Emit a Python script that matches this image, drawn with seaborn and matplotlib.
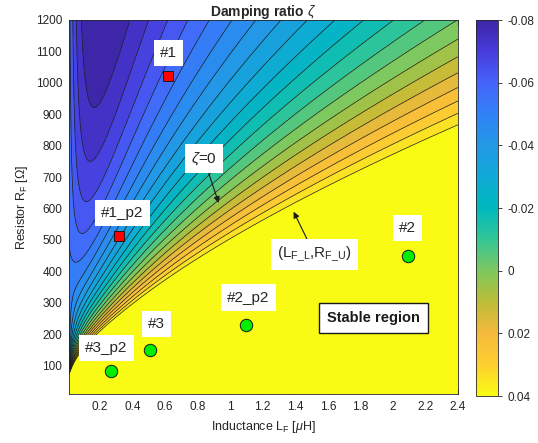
import numpy as np
import matplotlib
matplotlib.use("Agg")
import matplotlib.pyplot as plt
import seaborn as sns
from matplotlib.colors import LinearSegmentedColormap, Normalize
from matplotlib.cm import ScalarMappable

# axis ranges and ticks
l_range = (0.01, 2.4)      # uH
r_range = (10, 1200)       # ohm
x_ticks = [0.2, 0.4, 0.6, 0.8, 1.0, 1.2, 1.4, 1.6, 1.8, 2.0, 2.2, 2.4]
y_ticks = [100, 200, 300, 400, 500, 600, 700, 800, 900, 1000, 1100, 1200]
cbar_ticks = [-0.08, -0.06, -0.04, -0.02, 0, 0.02, 0.04]
zeta_lim = (-0.08, 0.04)
n_lines = 21

# contour crossings (line index 1..21)
top_cross_l = [0.39, 0.52, 0.60, 0.73, 0.88, 1.03, 1.16, 1.31, 1.48, 1.65,
               1.82, 2.00, 2.20, 2.38]                       # at R = 1200, lines 1..14
right_cross_r = [1193, 1122, 1084, 1039, 998, 956, 899, 858]  # at L = 2.4, lines 14..21

# shape of the map: lines fan out from (0, fan_r0) as L^fan_exp,
# plus a rise towards L -> 0 that makes the U shaped valley
fan_exp = 0.67
fan_r0 = 50.0
valley_amp = 9.9
valley_len = 0.09
valley_rfade = 120.0

# design cases
case_names = ["#1", "#1_p2", "#2", "#2_p2", "#3", "#3_p2"]
case_l = [0.62, 0.32, 2.09, 1.10, 0.51, 0.27]
case_r = [1022, 513, 449, 231, 149, 83]
case_marker = ["s", "s", "o", "o", "o", "o"]
case_color = ["#ff0000", "#ff0000", "#00ee00", "#00ee00", "#00ee00", "#00ee00"]
label_offset = [(0, 23), (3, 23), (0, 28), (2, 27), (6, 26), (-5, 23)]  # pixels

# parula-like colormap
parula = LinearSegmentedColormap.from_list("parula", [
    (0.000, "#3e26a8"), (0.083, "#473cdc"), (0.167, "#4664fa"),
    (0.250, "#3082f5"), (0.333, "#2398e6"), (0.417, "#10aad6"),
    (0.500, "#00b9be"), (0.583, "#32c696"), (0.667, "#7dc85f"),
    (0.750, "#bcbd37"), (0.833, "#f5b93c"), (0.917, "#fecf30"),
    (1.000, "#f9fb14")])

sns.set_theme(style="ticks")
plt.rcParams["font.family"] = ["Liberation Sans", "DejaVu Sans"]
plt.rcParams["mathtext.fontset"] = "custom"
plt.rcParams["mathtext.rm"] = "Liberation Sans"
plt.rcParams["mathtext.it"] = "Liberation Sans:italic"
plt.rcParams["mathtext.bf"] = "Liberation Sans:bold"


def fan_coord(l, r):
    dr = np.asarray(r, float) - fan_r0
    return np.where(dr > 0, 1000 * np.asarray(l, float) ** fan_exp / np.maximum(dr, 1e-9), 1e3)


# line index against the fan coordinate, fitted on the edge crossings
v_edge = np.r_[fan_coord(np.array(top_cross_l), 1200), fan_coord(2.4, np.array(right_cross_r))]
k_edge = np.r_[np.arange(1, 15), np.arange(14, 22)]
fan_poly = np.polyfit(v_edge, k_edge, 2)
v_top = -fan_poly[1] / (2 * fan_poly[0])

L_grid = np.linspace(*l_range, 700)
R_grid = np.linspace(*r_range, 700)
LL, RR = np.meshgrid(L_grid, R_grid)
valley = (valley_amp * np.exp(-LL / valley_len)
          * (1 - np.exp(-np.maximum(RR - fan_r0, 0) / valley_rfade)))
K = np.polyval(fan_poly, np.minimum(fan_coord(LL, RR), v_top)) + valley

fig = plt.figure(figsize=(5.38, 4.43), dpi=100)
ax = fig.add_axes([0.1283, 0.1106, 0.723, 0.8443])
cax = fig.add_axes([0.8848, 0.106, 0.0409, 0.8488])

levels = np.arange(1, n_lines + 1)
fill_colors = [parula(i / n_lines) for i in range(n_lines + 1)]
ax.contourf(LL, RR, K, levels=levels, colors=fill_colors, extend="both")
ax.contour(LL, RR, K, levels=levels, colors="k", linewidths=0.5)

ax.set_xlim(*l_range)
ax.set_ylim(*r_range)
ax.set_xticks(x_ticks)
ax.set_xticklabels([f"{t:g}" for t in x_ticks])
ax.set_yticks(y_ticks)
ax.tick_params(direction="in", top=True, right=True, length=3.5, width=0.6,
               labelsize=8.5, colors="#262626", pad=5)
for s in ax.spines.values():
    s.set_linewidth(0.6)
    s.set_color("#262626")

# design points and their labels
for name, l, r, m, c, off in zip(case_names, case_l, case_r, case_marker,
                                 case_color, label_offset):
    ax.scatter(l, r, marker=m, s=50 if m == "s" else 80, color=c,
               edgecolor="k", linewidth=0.7, zorder=5)
    ax.annotate(name, xy=(l, r), xytext=off, textcoords="offset pixels",
                ha="center", va="center", fontsize=11, color="#262626",
                bbox=dict(boxstyle="square,pad=0.4", fc="white", ec="none"),
                zorder=6)

ax.annotate(r"$\zeta$=0", xy=(0.93, 618), xytext=(-15, 44),
            textcoords="offset pixels", ha="center", va="center",
            fontsize=11, color="#262626",
            bbox=dict(boxstyle="square,pad=0.4", fc="white", ec="none"),
            arrowprops=dict(arrowstyle="-|>", color="k", lw=0.8,
                            mutation_scale=9, shrinkA=0, shrinkB=0),
            zorder=6)
ax.annotate(r"(L$_{\mathrm{F\_L}}$,R$_{\mathrm{F\_U}}$)", xy=(1.39, 590),
            xytext=(21, -43), textcoords="offset pixels", ha="center",
            va="center", fontsize=11, color="#262626",
            bbox=dict(boxstyle="square,pad=0.4", fc="white", ec="none"),
            arrowprops=dict(arrowstyle="-|>", color="k", lw=0.8,
                            mutation_scale=9, shrinkA=0, shrinkB=0),
            zorder=6)
ax.text(1.88, 251, "Stable region", ha="center", va="center", fontsize=10.5,
        fontweight="bold", color="k",
        bbox=dict(boxstyle="square,pad=0.55", fc="white", ec="k", lw=1.0),
        zorder=6)

ax.set_title(r"Damping ratio $\zeta$", fontsize=10, fontweight="bold", pad=3)
ax.set_xlabel(r"Inductance L$_\mathrm{F}$ [$\mu$H]", fontsize=9, color="#262626",
              labelpad=4)
ax.set_ylabel(r"Resistor R$_\mathrm{F}$ [$\Omega$]", fontsize=9, color="#262626",
              labelpad=4)

# colorbar, reversed like the original
norm = Normalize(*zeta_lim)
sm = ScalarMappable(norm=norm, cmap=parula)
cb = fig.colorbar(sm, cax=cax, ticks=cbar_ticks)
cax.invert_yaxis()
cb.ax.set_yticklabels([f"{t:g}" for t in cbar_ticks])
cb.ax.tick_params(labelsize=8.5, length=3, width=0.6, colors="#262626")
cb.outline.set_linewidth(0.6)

fig.savefig("out.png", dpi=100)
